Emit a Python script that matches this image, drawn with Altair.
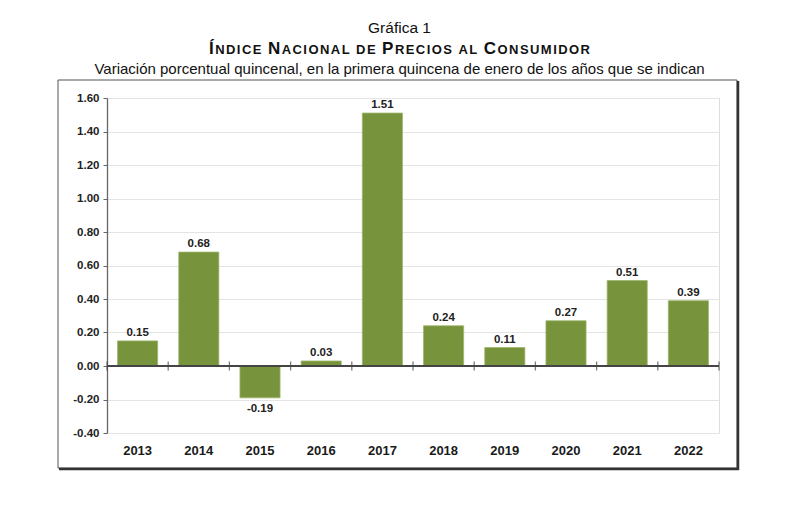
import altair as alt
import pandas as pd

years = ["2013", "2014", "2015", "2016", "2017", "2018", "2019", "2020", "2021", "2022"]
values = [0.15, 0.68, -0.19, 0.03, 1.51, 0.24, 0.11, 0.27, 0.51, 0.39]
y_ticks = [-0.4, -0.2, 0.0, 0.2, 0.4, 0.6, 0.8, 1.0, 1.2, 1.4, 1.6]

title_1 = "Gráfica 1"
title_2 = "ÍNDICE NACIONAL DE PRECIOS AL CONSUMIDOR"
subtitle = "Variación porcentual quincenal, en la primera quincena de enero de los años que se indican"

df = pd.DataFrame({"year": years, "value": values})

W, H = 612, 335
FONT = "Liberation Sans"
GREEN = "#77933C"
DARK = "#222222"

# ---- faux small caps layout for the bold title line (typographic, not data) ----
ARIAL_BOLD = {"Í": 278, "N": 722, "D": 722, "I": 278, "C": 722, "E": 667, "A": 722,
              "O": 778, "L": 611, "P": 667, "R": 722, "S": 667, "U": 722, "M": 833, " ": 278}
BIG, SMALL = 17.0, 13.0
letters = []
for w_i, word in enumerate(title_2.split(" ")):
    if w_i > 0:
        letters.append((" ", SMALL))
    for c_i, ch in enumerate(word):
        big = c_i == 0 and word not in ("DE", "AL")
        letters.append((ch, BIG if big else SMALL))
natural = sum(ARIAL_BOLD[c] * s / 1000 for c, s in letters)
target_w = 381.0
track = (target_w - natural) / (len(letters) - 1)
start_x = 102.0
rows = []
cur = start_x
for ch, s in letters:
    if ch != " ":
        rows.append({"ch": ch, "px": cur, "size": s})
    cur += ARIAL_BOLD[ch] * s / 1000 + track
title_df = pd.DataFrame(rows)

base = alt.Chart(df)
xenc = alt.X("year:N", sort=years, scale=alt.Scale(paddingInner=0, paddingOuter=0),
             axis=alt.Axis(title=None, orient="bottom", domain=False, ticks=False,
                           labelAngle=0, labelFont=FONT, labelFontSize=13,
                           labelFontWeight="bold", labelColor="#1a1a1a", labelPadding=11))
yscale = alt.Scale(domain=[-0.4, 1.6], nice=False, zero=False)

bars = base.mark_bar(color=GREEN, stroke="#9db56a", strokeWidth=0.8,
                     width=alt.RelativeBandSize(0.655)).encode(
    x=xenc,
    y=alt.Y("value:Q", scale=yscale,
            axis=alt.Axis(title=None, values=y_ticks, tickCount=len(y_ticks), grid=True,
                          labelOverlap=False,
                          labelExpr="replace(format(datum.value, '.2f'), '\u2212', '-')",
                          gridColor="#e4e4e4", gridWidth=1, domainColor="#666666",
                          domainWidth=1.3, tickColor="#666666", tickSize=4, labelPadding=4,
                          labelFont=FONT, labelFontSize=11.5, labelFontWeight="bold",
                          labelColor=DARK)),
)

lab_expr = "replace(format(datum.value, '.2f'), '\u2212', '-')"
labels_pos = base.transform_filter("datum.value >= 0").transform_calculate(
    lab=lab_expr).mark_text(
    dy=-5, baseline="alphabetic", font=FONT, fontSize=11.5, fontWeight="bold", color=DARK
).encode(x=alt.X("year:N", sort=years), y=alt.Y("value:Q"), text="lab:N")

labels_neg = base.transform_filter("datum.value < 0").transform_calculate(
    lab=lab_expr).mark_text(
    dy=5, baseline="top", font=FONT, fontSize=11.5, fontWeight="bold", color=DARK
).encode(x=alt.X("year:N", sort=years), y=alt.Y("value:Q"), text="lab:N")

zero_rule = base.mark_rule(color="#444444", strokeWidth=1.4).encode(y=alt.datum(0))

ticks_start = base.mark_tick(orient="vertical", size=9, thickness=1.3, color="#444444").encode(
    x=alt.X("year:N", sort=years, bandPosition=0), y=alt.datum(0))
ticks_end = base.transform_filter(alt.datum.year == years[-1]).mark_tick(
    orient="vertical", size=9, thickness=1.3, color="#444444").encode(
    x=alt.X("year:N", sort=years, bandPosition=1), y=alt.datum(0))

one = alt.Data(values=[{}])

frame = alt.Chart(one).mark_rect(fill=None, stroke="#555555", strokeWidth=1).encode(
    x=alt.value(-49), x2=alt.value(630), y=alt.value(-18), y2=alt.value(370)
)
shadow_r = alt.Chart(one).mark_rule(color="#333333", strokeWidth=2.5).encode(
    x=alt.value(631), y=alt.value(-17), y2=alt.value(372)
)
shadow_b = alt.Chart(one).mark_rule(color="#333333", strokeWidth=2.5).encode(
    x=alt.value(-48), x2=alt.value(632), y=alt.value(371)
)

t1 = alt.Chart(one).mark_text(font=FONT, fontSize=15.5, color="#111111", align="center",
                              baseline="alphabetic").encode(
    x=alt.value(292.5), y=alt.value(-65), text=alt.value(title_1))
t2 = alt.Chart(title_df).mark_text(font=FONT, fontWeight="bold", color="#111111",
                                   align="left", baseline="alphabetic").encode(
    x=alt.X("px:Q", scale=None, axis=None), y=alt.value(-43.7), text="ch:N",
    size=alt.Size("size:Q", scale=None, legend=None))
t3 = alt.Chart(one).mark_text(font=FONT, fontSize=15, color="#111111", align="center",
                              baseline="alphabetic").encode(
    x=alt.value(292.5), y=alt.value(-24), text=alt.value(subtitle))

chart = alt.layer(
    frame, shadow_r, shadow_b, bars, zero_rule, ticks_start, ticks_end,
    labels_pos, labels_neg, t1, t2, t3
).properties(
    width=W, height=H,
    autosize=alt.AutoSizeParams(type="none"),
    padding={"left": 99, "top": 90, "right": 70, "bottom": 60},
).configure_view(strokeWidth=0, stroke="transparent", strokeOpacity=0).configure(background="white")

chart.save("out.html", embed_options={"renderer": "svg", "actions": False})
